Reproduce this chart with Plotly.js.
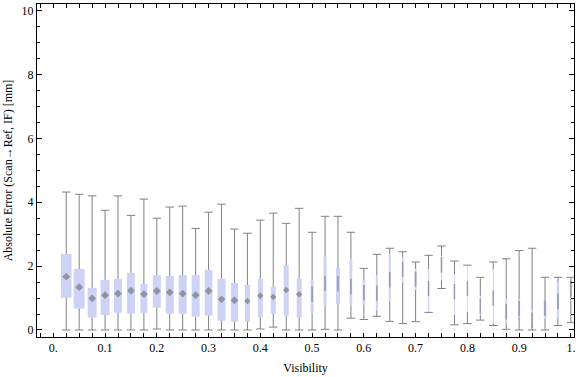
<!DOCTYPE html>
<html>
<head>
<meta charset="utf-8">
<script src="https://cdn.plot.ly/plotly-3.0.1.min.js"></script>
<style>html,body{margin:0;padding:0;background:#fff;}#chart{width:576px;height:377px;}</style>
</head>
<body>
<div id="chart"></div>
<script>
// Visibility categories (box centres)
const visibility = [0.025,0.05,0.075,0.1,0.125,0.15,0.175,0.2,0.225,0.25,0.275,0.3,0.325,0.35,0.375,0.4,0.425,0.45,0.475,0.5,0.525,0.55,0.575,0.6,0.625,0.65,0.675,0.7,0.725,0.75,0.775,0.8,0.825,0.85,0.875,0.9,0.925,0.95,0.975,1.0];
// Box-whisker statistics (absolute error, mm)
const whiskerLow = [0,0,0,0,0,0,0,0.03,0,0,0,0,0,0,0,0.03,0.09,0,0,0,0.02,0,0.37,0.33,0.43,0.27,0.20,0.26,0.55,1.30,0.16,0.20,0.31,0.14,0.02,0,0,0,0.14,0.23];
const quartile1 = [1.01,0.67,0.39,0.47,0.54,0.51,0.54,0.70,0.51,0.51,0.42,0.45,0.29,0.26,0.26,0.40,0.51,0.45,0.39,0.51,0.77,0.82,0.77,0.79,0.61,0.89,1.48,1.25,0.55,1.55,0.47,0.57,0.47,0.21,0.20,0.41,0.14,0.36,0.36,1.14];
const median = [1.67,1.34,0.99,1.09,1.14,1.23,1.12,1.22,1.18,1.14,1.09,1.22,0.96,0.93,0.91,1.07,1.03,1.25,1.12,1.12,1.46,1.45,1.36,1.17,1.15,1.57,1.90,1.59,1.30,2.04,1.20,1.30,0.75,1.00,0.57,0.68,0.31,0.68,0.90,1.30];
const quartile3 = [2.38,1.91,1.32,1.57,1.60,1.79,1.44,1.72,1.69,1.72,1.72,1.88,1.60,1.47,1.41,1.60,1.35,2.03,1.60,1.57,2.31,1.94,2.22,1.57,1.71,2.38,2.28,1.91,1.91,2.32,1.75,2.03,1.07,1.91,0.99,0.97,0.63,0.91,1.51,1.44];
const whiskerHigh = [4.32,4.25,4.20,3.75,4.20,3.59,4.10,3.50,3.85,3.88,3.18,3.69,3.94,3.16,3.03,3.44,3.66,3.34,3.81,3.06,3.56,3.56,3.06,1.93,2.37,2.56,2.45,2.13,2.34,2.63,2.16,2.03,1.65,2.13,2.23,2.49,2.56,1.65,1.65,1.65];
// Tick labels
const xTickVals = [0,0.1,0.2,0.3,0.4,0.5,0.6,0.7,0.8,0.9,1.0];
const xTickText = ['0.','0.1','0.2','0.3','0.4','0.5','0.6','0.7','0.8','0.9','1.'];
const yTickVals = [0,2,4,6,8,10];

// Styling (not data): box widths in pixels as drawn
const boxWidthPx = [10.7,11,9,9,8,8,7,8,8,8,8,7.7,8,7,5,5,5,5,5,3,3,4,2.7,2.7,2,2,1.5,2,1.3,1.3,1,0.7,1,1,2,2,2,2.7,2.3,2.3];
const plotPxPerUnit = 517.7;

const gray = '#808080';
const boxFill = 'rgb(204,211,245)';
const font = {family:'Liberation Serif, Times New Roman, serif', size:12, color:'#000'};

// whisker segments
const wx = [], wy = [];
visibility.forEach((v,i)=>{
  wx.push(v,v,null,v,v,null);
  wy.push(whiskerLow[i],quartile1[i],null,quartile3[i],whiskerHigh[i],null);
});

const boxes = {
  type:'bar', x:visibility, base:quartile1,
  y:quartile3.map((q,i)=>q-quartile1[i]),
  width:boxWidthPx.map(w=>w/plotPxPerUnit),
  marker:{color:boxFill, line:{width:0}},
  hoverinfo:'skip', showlegend:false
};
const whiskers = {
  type:'scatter', mode:'lines', x:wx, y:wy,
  line:{color:gray, width:1}, hoverinfo:'skip', showlegend:false
};
const caps = {
  type:'scatter', mode:'markers',
  x:visibility.concat(visibility), y:whiskerLow.concat(whiskerHigh),
  marker:{symbol:'line-ew', size:6, line:{color:gray, width:1}},
  hoverinfo:'skip', showlegend:false
};
const wide = boxWidthPx.map(w=>w>=5);
const medsWide = {
  type:'scatter', mode:'markers',
  x:visibility.filter((v,i)=>wide[i]), y:median.filter((v,i)=>wide[i]),
  marker:{symbol:'diamond', size:boxWidthPx.filter((v,i)=>wide[i]).map(w=>w>=7?6:5),
    color:'rgba(115,115,115,0.95)', line:{width:0}},
  hoverinfo:'skip', showlegend:false
};
const medsThin = {
  type:'scatter', mode:'markers',
  x:visibility.filter((v,i)=>!wide[i]), y:median.filter((v,i)=>!wide[i]),
  marker:{symbol:'line-ns', size:11, line:{color:'rgba(110,110,110,0.55)', width:1.6}},
  hoverinfo:'skip', showlegend:false
};

const layout = {
  width:576, height:377,
  margin:{l:37, r:2, t:4, b:40},
  paper_bgcolor:'#fff', plot_bgcolor:'#fff',
  barmode:'overlay', showlegend:false,
  font:font,
  xaxis:{
    range:[-0.0315,1.006], tickvals:xTickVals, ticktext:xTickText,
    ticks:'inside', ticklen:4, tickcolor:'#000', tickwidth:1,
    minor:{dtick:0.025, tick0:0, ticks:'inside', ticklen:4, tickcolor:'#000', tickwidth:1, showgrid:false},
    showline:true, linecolor:'#000', linewidth:1, mirror:'allticks',
    showgrid:false, zeroline:false, tickfont:font,
    title:{text:'Visibility', font:font, standoff:9}
  },
  yaxis:{
    range:[-0.22,10.21], tickvals:yTickVals,
    ticks:'inside', ticklen:5, tickcolor:'#000', tickwidth:1,
    minor:{dtick:0.5, tick0:0, ticks:'inside', ticklen:3, tickcolor:'#000', tickwidth:1, showgrid:false},
    showline:true, linecolor:'#000', linewidth:1, mirror:'allticks',
    showgrid:false, zeroline:false, tickfont:font,
    title:{text:'Absolute Error (Scan\u2192Ref, IF) [mm]', font:font, standoff:6}
  }
};

Plotly.newPlot('chart', [boxes, whiskers, caps, medsWide, medsThin], layout, {staticPlot:true, displayModeBar:false});
</script>
</body>
</html>
